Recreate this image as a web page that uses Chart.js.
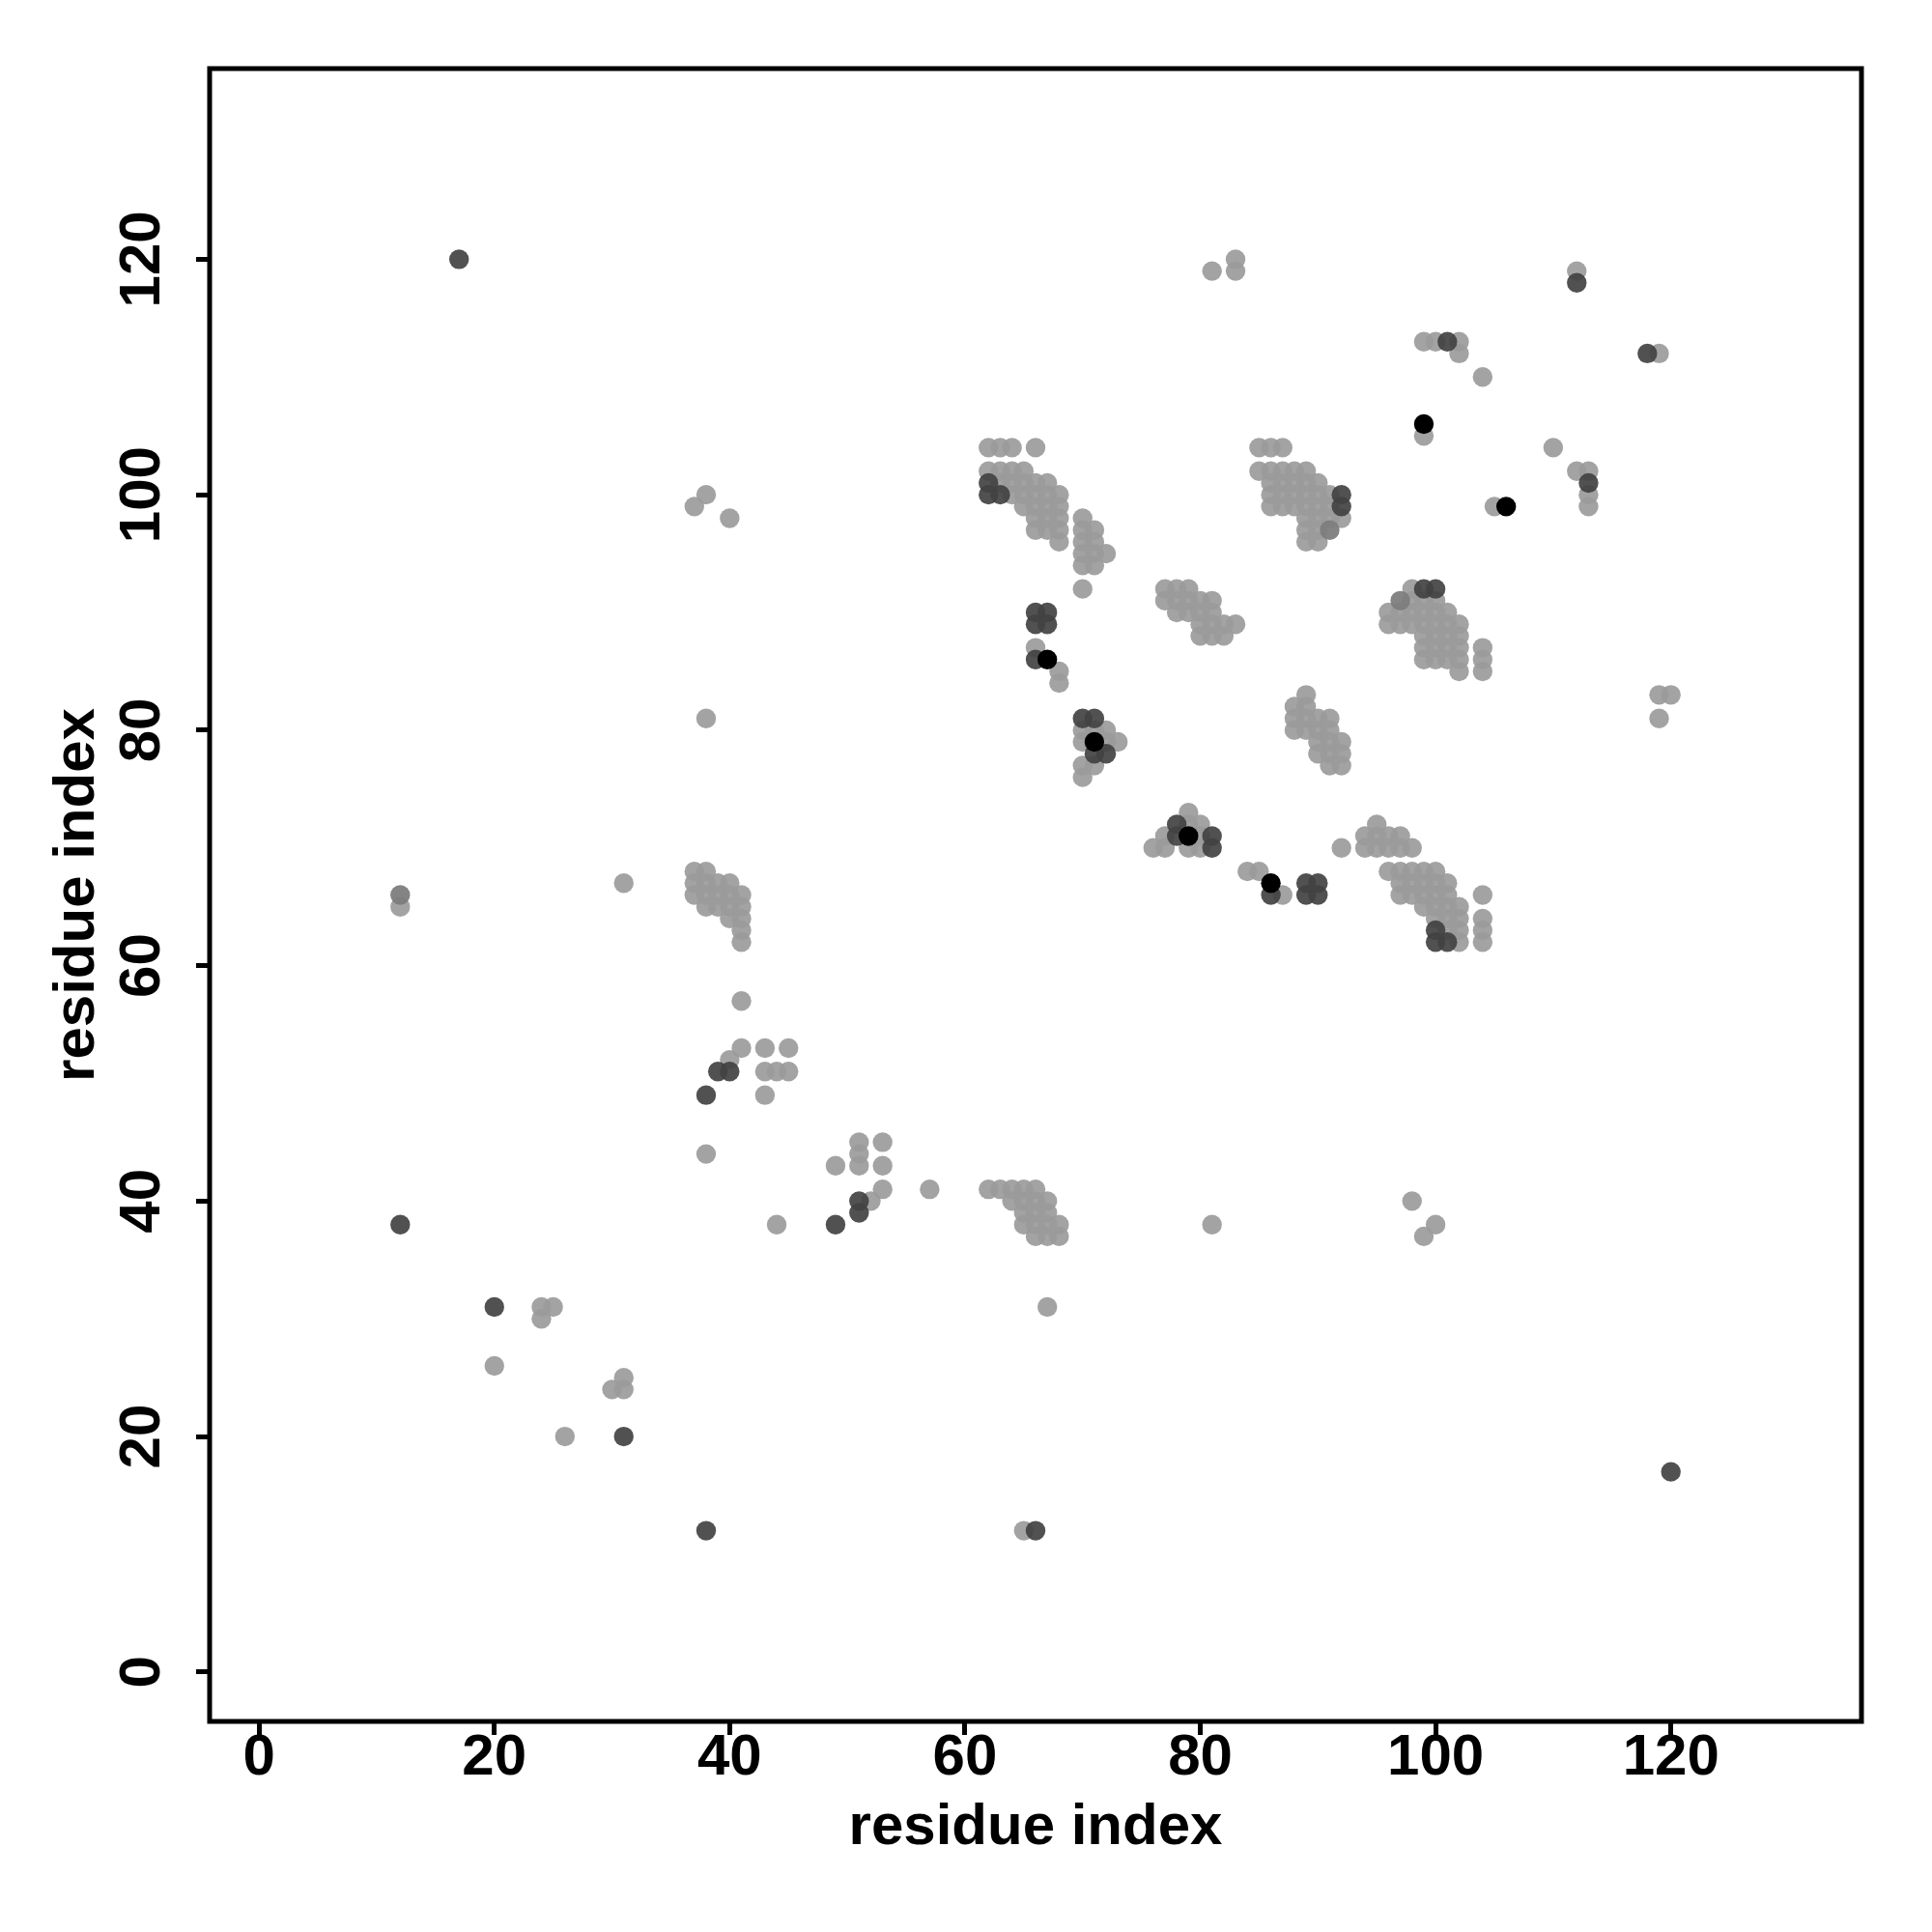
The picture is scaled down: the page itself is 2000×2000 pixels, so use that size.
<!DOCTYPE html>
<html lang="en">
<head>
    <meta charset="UTF-8">
    <title>Residue contact map</title>
    <script src="https://cdn.jsdelivr.net/npm/chart.js"></script>
    <style>
        body {
            margin: 0;
            background: #fff;
        }
        #wrap {
            width: 2000px;
            height: 2000px;
        }
    </style>
</head>
<body>

    <div id="wrap"><canvas id="map" width="2000" height="2000"></canvas></div>

    <script>
        // axis settings
        const axisMin = -4.2;
        const axisMax = 136.2;
        const tickValues = [0, 20, 40, 60, 80, 100, 120];
        const axisTitle = 'residue index';

        // contacts [i, j] grouped by shade
        const lightContacts = [
            [62,104],[63,104],[64,104],[66,104],[62,102],[63,102],[64,102],[65,102],
            [63,101],[64,101],[65,101],[66,101],[67,101],[64,100],[65,100],[66,100],[67,100],[68,100],
            [65,99],[66,99],[67,99],[68,99],[66,98],[67,98],[68,98],[70,98],
            [66,97],[67,97],[68,97],[70,97],[71,97],[68,96],[70,96],[71,96],
            [70,95],[71,95],[72,95],[70,94],[71,94],[70,92],[66,87],[68,85],[68,84],
            [70,80],[71,80],[72,80],[70,79],[72,79],[73,79],[70,77],[71,77],[70,76],
            [85,104],[86,104],[87,104],[85,102],[86,102],[87,102],[88,102],[89,102],
            [86,101],[87,101],[88,101],[89,101],[90,101],[86,100],[87,100],[88,100],[89,100],[90,100],[91,100],
            [86,99],[87,99],[88,99],[89,99],[90,99],[91,99],[89,98],[90,98],[91,98],[92,98],
            [89,97],[90,97],[89,96],[90,96],
            [77,92],[78,92],[79,92],[77,91],[78,91],[79,91],[80,91],[81,91],
            [78,90],[79,90],[80,90],[81,90],[80,89],[81,89],[82,89],[83,89],[80,88],[81,88],[82,88],
            [98,92],[98,91],[99,91],[100,91],[96,90],[97,90],[98,90],[99,90],[100,90],[101,90],
            [96,89],[97,89],[98,89],[99,89],[100,89],[101,89],[102,89],
            [99,88],[100,88],[101,88],[102,88],[99,87],[100,87],[101,87],[102,87],[104,87],
            [99,86],[100,86],[101,86],[102,86],[104,86],[102,85],[104,85],
            [89,83],[88,82],[89,82],[88,81],[89,81],[90,81],[91,81],[88,80],[89,80],[90,80],[91,80],
            [90,79],[91,79],[92,79],[90,78],[91,78],[92,78],[91,77],[92,77],
            [79,73],[79,72],[80,72],[77,71],[80,71],[76,70],[77,70],[79,70],[80,70],
            [84,68],[85,68],[87,66],[92,70],
            [95,72],[94,71],[95,71],[96,71],[97,71],[94,70],[95,70],[96,70],[97,70],[98,70],
            [96,68],[97,68],[98,68],[99,68],[100,68],[97,67],[98,67],[99,67],[100,67],[101,67],
            [97,66],[98,66],[99,66],[100,66],[101,66],[104,66],[99,65],[100,65],[101,65],[102,65],
            [100,64],[101,64],[102,64],[104,64],[101,63],[102,63],[104,63],[102,62],[104,62],
            [37,68],[38,68],[37,67],[38,67],[39,67],[40,67],[37,66],[38,66],[39,66],[40,66],[41,66],
            [38,65],[39,65],[40,65],[41,65],[40,64],[41,64],[41,63],[41,62],
            [41,57],[41,53],[43,53],[45,53],[40,52],[43,51],[44,51],[45,51],[43,49],
            [51,45],[53,45],[51,44],[49,43],[51,43],[53,43],[53,41],[52,40],[57,41],
            [62,41],[63,41],[64,41],[65,41],[66,41],[64,40],[65,40],[66,40],[67,40],
            [65,39],[66,39],[67,39],[65,38],[66,38],[67,38],[68,38],[66,37],[67,37],[68,37],
            [24,31],[25,31],[24,30],[20,26],[31,25],[30,24],[31,24],[26,20],
            [38,100],[37,99],[40,98],[38,81],[12,65],[31,67],[38,44],[44,38],[65,12],[67,31],
            [81,38],[98,40],[100,38],[99,37],
            [81,119],[83,119],[83,120],[99,113],[100,113],[102,113],[102,112],[104,110],[99,105],
            [105,99],[110,104],[112,119],[119,112],[112,102],[113,102],[113,100],[113,99],
            [119,83],[120,83],[119,81]
        ];

        const midContacts = [
            [12,66],[97,91],[91,97]
        ];

        const darkContacts = [
            [17,120],[120,17],[12,38],[38,12],[66,12],[20,31],[31,20],
            [38,49],[49,38],[39,51],[40,51],[51,39],[51,40],
            [62,101],[62,100],[63,100],[101,62],[100,62],[100,63],
            [66,90],[67,90],[66,89],[67,89],[90,66],[90,67],[89,66],[89,67],
            [66,86],[86,66],[70,81],[71,81],[71,78],[72,78],[81,70],[81,71],[78,71],[78,72],
            [92,100],[92,99],[100,92],[99,92],[101,113],[113,101],[112,118],[118,112]
        ];

        const blackContacts = [
            [99,106],[106,99],[67,86],[86,67],[71,79],[79,71]
        ];

        const fontFamily = '"Liberation Sans", Arial, Helvetica, sans-serif';

        function toPoints(list) {
            return list.map(p => ({ x: p[0], y: p[1] }));
        }

        // lower order is drawn on top in Chart.js
        function dataset(list, color, order) {
            return {
                data: toPoints(list),
                backgroundColor: color,
                borderWidth: 0,
                pointRadius: 10.2,
                pointHoverRadius: 10.2,
                order: order
            };
        }

        // R style box round the plot area
        const boxPlugin = {
            id: 'box',
            afterDraw(chart) {
                const a = chart.chartArea;
                const ctx = chart.ctx;
                ctx.save();
                ctx.strokeStyle = '#000';
                ctx.lineWidth = 5;
                ctx.strokeRect(a.left, a.top, a.right - a.left, a.bottom - a.top);
                ctx.restore();
            }
        };

        function axisOptions(isY) {
            return {
                type: 'linear',
                min: axisMin,
                max: axisMax,
                afterBuildTicks: s => { s.ticks = tickValues.map(v => ({ value: v })); },
                afterFit: s => {
                    if (isY) s.width = 217;
                    else s.height = 218;
                },
                border: { display: false },
                grid: {
                    display: true,
                    drawOnChartArea: false,
                    drawTicks: true,
                    tickLength: 14,
                    color: '#000',
                    lineWidth: 5
                },
                ticks: {
                    color: '#000',
                    autoSkip: false,
                    font: { family: fontFamily, size: 60, weight: 'bold', lineHeight: 1 },
                    padding: isY ? 4 : -6,
                    minRotation: isY ? 90 : 0,
                    maxRotation: isY ? 90 : 0,
                    crossAlign: isY ? 'center' : 'near'
                },
                title: {
                    display: true,
                    text: axisTitle,
                    color: '#000',
                    font: { family: fontFamily, size: 60, weight: 'bold', lineHeight: 1 },
                    padding: isY ? { top: 50, bottom: 0 } : { top: 0, bottom: 78 }
                }
            };
        }

        new Chart(document.getElementById('map'), {
            type: 'scatter',
            data: {
                datasets: [
                    dataset(lightContacts, 'rgba(155,155,155,0.92)', 4),
                    dataset(midContacts, 'rgba(125,125,125,0.95)', 3),
                    dataset(darkContacts, 'rgba(66,66,66,0.92)', 2),
                    dataset(blackContacts, '#000', 1)
                ]
            },
            options: {
                responsive: false,
                animation: false,
                events: [],
                layout: { padding: { top: 71, right: 73, left: 0, bottom: 0 } },
                plugins: {
                    legend: { display: false },
                    tooltip: { enabled: false }
                },
                scales: {
                    x: axisOptions(false),
                    y: axisOptions(true)
                }
            },
            plugins: [boxPlugin]
        });
    </script>

</body>
</html>
